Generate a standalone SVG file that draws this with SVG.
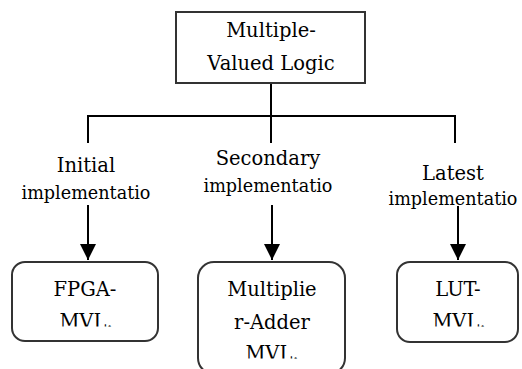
<svg xmlns="http://www.w3.org/2000/svg" width="522" height="369" viewBox="0 0 522 369" font-family="DejaVu Serif, serif">
<style>
.t{font-family:"DejaVu Serif",serif;font-size:19.5px;fill:#000;text-anchor:middle}
.s{font-size:17.6px}
.box{fill:#fff;stroke:#333;stroke-width:2}
.ln{fill:none;stroke:#000;stroke-width:2}
</style>
<defs>
<marker id="ah" viewBox="0 0 16 16" refX="16" refY="8" markerWidth="16" markerHeight="16" markerUnits="userSpaceOnUse" orient="auto">
<path d="M0 0L16 8L0 16Z" fill="#000"/>
</marker>
<clipPath id="c1"><rect x="0" y="0" width="522" height="326.5"/></clipPath>
<clipPath id="c2"><rect x="0" y="0" width="522" height="358.5"/></clipPath>
</defs>
<rect width="522" height="369" fill="#fff"/>
<g id="connectors">
<path class="ln" d="M271 83V143M88 143V116H455V143"/>
<path class="ln" d="M88 205V260" marker-end="url(#ah)"/>
<path class="ln" d="M272 205V260" marker-end="url(#ah)"/>
<path class="ln" d="M458 206V260" marker-end="url(#ah)"/>
</g>
<g id="root">
<rect class="box" x="176" y="12" width="189" height="71"/>
<text class="t" x="271" y="37">Multiple-</text>
<text class="t" x="271" y="70">Valued Logic</text>
</g>
<g id="label1">
<text class="t" x="86" y="172">Initial</text>
<text class="t s" x="86" y="199">implementatio</text>
</g>
<g id="label2">
<text class="t" x="268" y="165">Secondary</text>
<text class="t s" x="268" y="192">implementatio</text>
</g>
<g id="label3">
<text class="t" x="453" y="180">Latest</text>
<text class="t s" x="453" y="205">implementatio</text>
</g>
<g id="fpga">
<rect class="box" x="12" y="262" width="146" height="79" rx="13"/>
<text class="t" x="85" y="296">FPGA-</text>
<text class="t" x="86" y="328" clip-path="url(#c1)">MVL.</text>
</g>
<g id="madder">
<rect class="box" x="198" y="262" width="147" height="112" rx="16"/>
<text class="t" x="272" y="296">Multiplie</text>
<text class="t" x="272" y="329">r-Adder</text>
<text class="t" x="272" y="360" clip-path="url(#c2)">MVL.</text>
</g>
<g id="lut">
<rect class="box" x="397" y="262" width="121" height="80" rx="13"/>
<text class="t" x="458" y="296">LUT-</text>
<text class="t" x="459" y="328" clip-path="url(#c1)">MVL.</text>
</g>
</svg>
